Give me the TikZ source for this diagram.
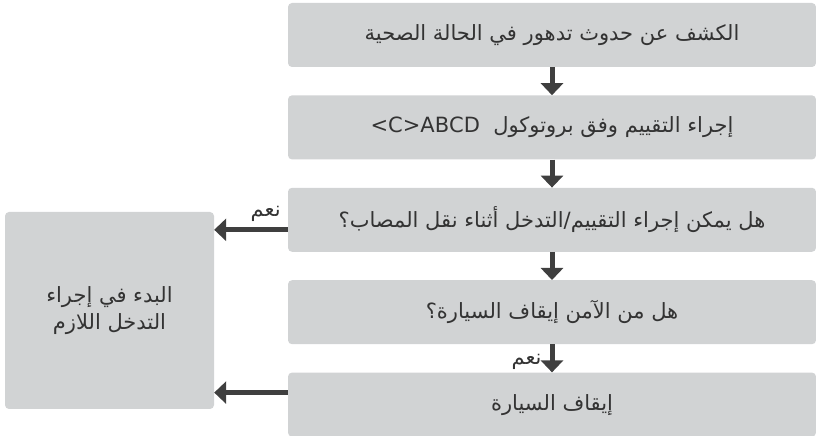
\documentclass[tikz,border=0pt]{standalone}
\usepackage{fontspec}
\usepackage{tikz}
\usetikzlibrary{arrows.meta, positioning}
\TeXXeTstate=1
\newfontfamily\arabicfont[Script=Arabic]{DejaVu Sans}
\definecolor{boxgray}{HTML}{D1D3D4}
\definecolor{inkgray}{HTML}{333333}
\definecolor{arrowgray}{HTML}{3F3F3F}
\tikzstyle{stepbox} = [rectangle, rounded corners=4pt, minimum width=528pt, minimum height=64pt, text centered, fill=boxgray, text=inkgray, font=\arabicfont\fontsize{21}{27}\selectfont]
\tikzstyle{actbox} = [stepbox, minimum width=209pt, minimum height=197pt, align=center]
\tikzstyle{arrow} = [line width=5pt, draw=arrowgray, -{Triangle[length=12pt, width=22pt]}]
\tikzstyle{yeslabel} = [text=inkgray, inner sep=2pt, font=\arabicfont\fontsize{21}{25}\selectfont]

\begin{document}
\begin{tikzpicture}[x=1pt, y=1pt, node distance=28pt]
\useasboundingbox (0,0) rectangle (816,436);

\node (detect) [stepbox] at (552,401) {\beginR الكشف عن حدوث تدهور في الحالة الصحية\endR};
\node (assess) [stepbox, below=of detect] {\beginR إجراء التقييم وفق بروتوكول\ \ \beginL<C>ABCD\endL\endR};
\node (during) [stepbox, below=of assess] {\beginR هل يمكن إجراء التقييم/التدخل أثناء نقل المصاب؟\endR};
\node (safe) [stepbox, below=of during] {\beginR هل من الآمن إيقاف السيارة؟\endR};
\node (stop) [stepbox, below=of safe] {\beginR إيقاف السيارة\endR};
\node (act) [actbox] at (109.5,125.5) {\beginR البدء في إجراء\endR\\\beginR التدخل اللازم\endR};

\draw [arrow] (detect) -- (assess);
\draw [arrow] (assess) -- (during);
\draw [arrow] (during) -- (safe);
\draw [arrow] (safe) -- node[yeslabel, left=6pt, yshift=-3pt] {\beginR نعم\endR} (stop);
\draw [arrow] ([yshift=-10pt]during.west) -- node[yeslabel, above=4pt, pos=0.3] {\beginR نعم\endR} ([yshift=-10pt]during.west -| act.east);
\draw [arrow] ([yshift=12pt]stop.west) -- ([yshift=12pt]stop.west -| act.east);

\end{tikzpicture}
\end{document}
